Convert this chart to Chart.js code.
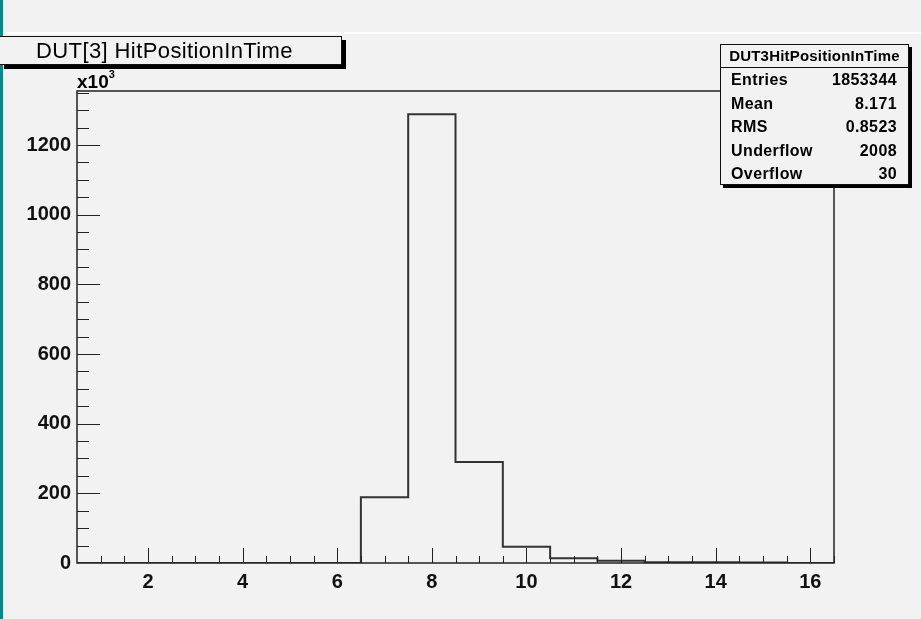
<!DOCTYPE html>
<html>
<head>
<meta charset="utf-8">
<script src="https://cdn.jsdelivr.net/npm/chart.js@4.4.1/dist/chart.umd.min.js"></script>
<style>
  body { margin: 0; background: #f2f2f2; font-family: "Liberation Sans", Arial, sans-serif; }
  #wrap { position: relative; width: 921px; height: 619px; overflow: hidden; }
  #stripe { position: absolute; left: 0; top: 0; width: 3px; height: 619px; background: #0b8686; }
  #topline { position: absolute; left: 3px; top: 32px; width: 918px; height: 2px; background: #ffffff; }
  #title { position: absolute; left: 0; top: 36px; border: 1px solid #111; border-left: none;
           background: #f2f2f2; box-shadow: 4px 4px 0 #000; font-size: 22px; letter-spacing: 0.4px; line-height: 28px; padding-left: 36px; box-sizing: border-box; width: 342px; height: 29px; }
  #stats { position: absolute; left: 720px; top: 44px; width: 189px; height: 141px; border: 1px solid #111; box-sizing: border-box;
           background: #f2f2f2; box-shadow: 3px 3px 0 #000; font-weight: bold; }
  #stats .hdr { height: 22px; border-bottom: 1px solid #111; font-size: 15px; letter-spacing: 0.2px; line-height: 22px; text-align: center; white-space: nowrap; }
  #stats .row { position: absolute; left: 10px; right: 11px; font-size: 16px; letter-spacing: 0.4px; height: 18px; line-height: 18px; }
  #stats .row span { position: absolute; right: 0; }
  #mult { position: absolute; left: 77px; top: 71px; font-weight: bold; font-size: 19px; }
  #mult sup { font-size: 11px; position: relative; top: -3px; }
  canvas { position: absolute; left: 0; top: 0; }
</style>
</head>
<body>
<div id="wrap">
  <canvas id="c" width="921" height="619"></canvas>
  <div id="stripe"></div>
  <div id="topline"></div>
  <div id="title">DUT[3] HitPositionInTime</div>
  <div id="mult">x10<sup>3</sup></div>
  <div id="stats">
    <div class="hdr">DUT3HitPositionInTime</div>
  </div>
</div>
<script>
// histogram bins (bin centres) and contents in thousands of entries
const binCenters = [1, 2, 3, 4, 5, 6, 7, 8, 9, 10, 11, 12, 13, 14, 15, 16];
const countsK = [0, 0, 0, 0, 0, 0, 188.5, 1288, 290, 47, 13.5, 6.5, 2.5, 1.8, 1.2, 0];
const xTickLabels = [2, 4, 6, 8, 10, 12, 14, 16];
const yTickLabels = [0, 200, 400, 600, 800, 1000, 1200];
const statNames = ['Entries', 'Mean', 'RMS', 'Underflow', 'Overflow'];
const statValues = ['1853344', '8.171', '0.8523', '2008', '30'];

const xMin = 0.5, xMax = 16.5, yMin = 0, yMax = 1355;

// stats box rows
const statsBox = document.getElementById('stats');
const rowTops = [26, 50, 73, 97, 120];
statNames.forEach((n, i) => {
  const r = document.createElement('div');
  r.className = 'row';
  r.style.top = rowTops[i] + 'px';
  r.innerHTML = n + '<span>' + statValues[i] + '</span>';
  statsBox.appendChild(r);
});

// step outline points: lower edge of each bin, plus the last upper edge
const stepPts = [{ x: xMin, y: 0 }];
binCenters.forEach((c, i) => stepPts.push({ x: c - 0.5, y: countsK[i] }));
stepPts.push({ x: binCenters[binCenters.length - 1] + 0.5, y: countsK[countsK.length - 1] });

// ROOT-style frame with inward ticks
const rootFrame = {
  id: 'rootFrame',
  afterDatasetsDraw(chart) {
    const ctx = chart.ctx, a = chart.chartArea;
    const xs = chart.scales.x, ys = chart.scales.y;
    ctx.save();
    ctx.strokeStyle = '#222';
    ctx.lineWidth = 1;
    ctx.beginPath();
    for (let v = 1; v <= xMax; v += 0.5) {
      const px = Math.round(xs.getPixelForValue(v)) + 0.5;
      const len = (v % 2 === 0) ? 15 : 7;
      ctx.moveTo(px, a.bottom);
      ctx.lineTo(px, a.bottom - len);
    }
    for (let v = 50; v < yMax; v += 50) {
      const py = Math.round(ys.getPixelForValue(v)) + 0.5;
      const len = (v % 200 === 0) ? 23 : 12;
      ctx.moveTo(a.left, py);
      ctx.lineTo(a.left + len, py);
    }
    ctx.stroke();
    ctx.lineWidth = 1.5;
    ctx.strokeRect(a.left, a.top, a.right - a.left, a.bottom - a.top);
    ctx.restore();
  }
};

const tickFont = { family: 'Liberation Sans', size: 20, weight: 'bold' };

new Chart(document.getElementById('c'), {
  type: 'line',
  data: {
    datasets: [{
      data: stepPts,
      stepped: 'before',
      borderColor: '#333',
      borderWidth: 2,
      pointRadius: 0,
      fill: false
    }]
  },
  options: {
    responsive: false,
    animation: false,
    layout: { padding: { top: 91, right: 87, left: 0, bottom: 0 } },
    plugins: { legend: { display: false }, tooltip: { enabled: false } },
    scales: {
      x: {
        type: 'linear', min: xMin, max: xMax,
        grid: { display: false, drawTicks: false },
        border: { display: false },
        afterBuildTicks: s => { s.ticks = xTickLabels.map(v => ({ value: v })); },
        afterFit: s => { s.height = 56; },
        ticks: { font: tickFont, color: '#111', padding: 7, maxRotation: 0, autoSkip: false, callback: v => String(v) }
      },
      y: {
        type: 'linear', min: yMin, max: yMax,
        grid: { display: false, drawTicks: false },
        border: { display: false },
        afterBuildTicks: s => { s.ticks = yTickLabels.map(v => ({ value: v })); },
        afterFit: s => { s.width = 77; },
        ticks: { font: tickFont, color: '#111', padding: 6, autoSkip: false, callback: v => String(v) }
      }
    }
  },
  plugins: [rootFrame]
});
</script>
</body>
</html>
